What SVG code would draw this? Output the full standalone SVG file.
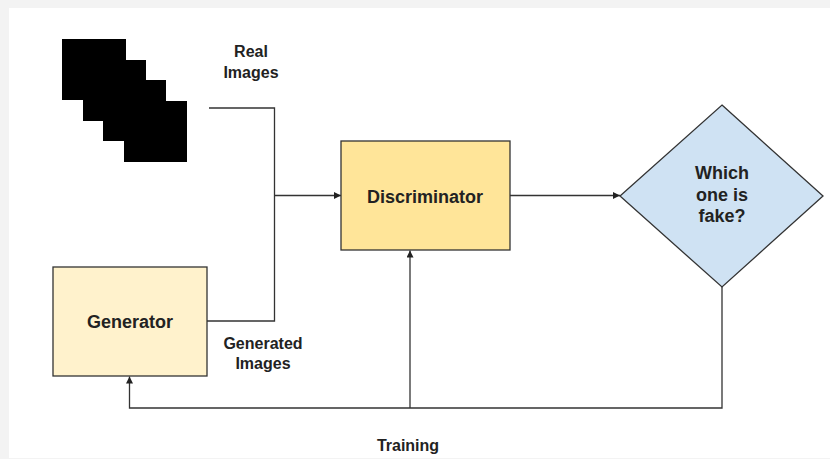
<svg xmlns="http://www.w3.org/2000/svg" width="830" height="459" viewBox="0 0 830 459">
  <style>
    .label { font-family: "Liberation Sans", Arial, sans-serif; font-weight: bold; fill: #222; text-anchor: middle; }
    .small { font-size: 16px; }
    .big { font-size: 18px; }
    .box { stroke: #333; stroke-width: 1.3; }
    .wire { fill: none; stroke: #333; stroke-width: 1.3; }
  </style>
  <defs>
    <marker id="arrow" viewBox="0 0 10 10" refX="10" refY="5" markerWidth="8" markerHeight="7" markerUnits="userSpaceOnUse" orient="auto">
      <path d="M0,0 L10,5 L0,10 Z" fill="#222"/>
    </marker>
  </defs>

  <!-- page -->
  <rect x="0" y="0" width="830" height="459" fill="#f3f3f3"/>
  <rect x="9" y="8" width="821" height="450" fill="#ffffff"/>

  <!-- stack of real images -->
  <g id="real-images">
    <rect x="62" y="39" width="64" height="61" fill="#000"/>
    <rect x="83" y="60" width="63" height="61" fill="#000"/>
    <rect x="103" y="80" width="63" height="61" fill="#000"/>
    <rect x="124" y="101" width="63" height="61" fill="#000"/>
    <text class="label small" x="251" y="57">Real</text>
    <text class="label small" x="251" y="78">Images</text>
  </g>

  <!-- connectors -->
  <g id="connectors">
    <path class="wire" d="M209,108 H274.5 V321 H207"/>
    <path class="wire" d="M274.5,195.5 H341" marker-end="url(#arrow)"/>
    <path class="wire" d="M510,195.5 H620" marker-end="url(#arrow)"/>
    <path class="wire" d="M722,287 V408 H129.5 V376.5" marker-end="url(#arrow)"/>
    <path class="wire" d="M410,408 V250.5" marker-end="url(#arrow)"/>
  </g>

  <g id="generator">
    <rect class="box" x="53" y="267" width="154" height="109" fill="#fff2cc"/>
    <text class="label big" x="130" y="328">Generator</text>
  </g>

  <g id="generated-images-label">
    <text class="label small" x="263" y="349">Generated</text>
    <text class="label small" x="263" y="369">Images</text>
  </g>

  <g id="discriminator">
    <rect class="box" x="341" y="141" width="169" height="109" fill="#ffe599"/>
    <text class="label big" x="425" y="203">Discriminator</text>
  </g>

  <g id="decision">
    <polygon class="box" points="722,105 823,196 722,287 620,196" fill="#cfe2f3"/>
    <text class="label big" x="722" y="179">Which</text>
    <text class="label big" x="722" y="201">one is</text>
    <text class="label big" x="722" y="222">fake?</text>
  </g>

  <g id="training-label">
    <text class="label small" x="408" y="451">Training</text>
  </g>
</svg>
